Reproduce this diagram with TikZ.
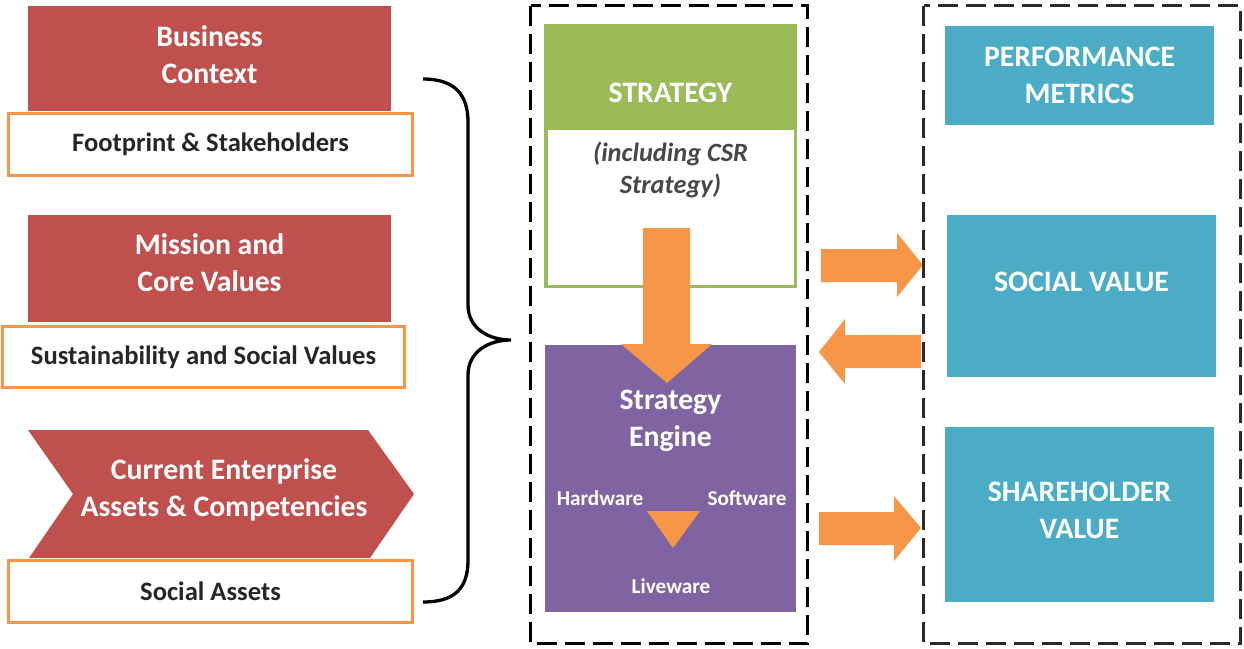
\documentclass[tikz,border=0pt]{standalone}
\usepackage{fontspec}
\setmainfont{Carlito}
\usetikzlibrary{positioning}
\definecolor{bizred}{HTML}{C0504D}
\definecolor{tagorange}{HTML}{F79646}
\definecolor{stratgreen}{HTML}{9BBB59}
\definecolor{engpurple}{HTML}{8064A2}
\definecolor{valblue}{HTML}{4BACC6}
\definecolor{dashgray}{HTML}{2B2B2B}
\definecolor{txtdark}{HTML}{262626}
\newcommand{\fontBig}{\bfseries\fontsize{29.7}{37}\selectfont}
\newcommand{\fontLab}{\bfseries\fontsize{26.6}{30}\selectfont}
\newcommand{\fontSml}{\bfseries\fontsize{21.2}{24}\selectfont}
\newcommand{\fontCsr}{\bfseries\itshape\fontsize{26.4}{32}\selectfont}

\tikzset{
  redbox/.style={fill=bizred, inner sep=0pt, text=white, font=\fontBig, align=center},
  tagbox/.style={draw=tagorange, line width=3pt, fill=white, inner sep=0pt, text=txtdark, font=\fontLab},
  valbox/.style={fill=valblue, inner sep=0pt, text=white, font=\fontBig, align=center},
  dashbox/.style={line width=3.3pt, dash pattern=on 20pt off 8pt},
  blockarrow/.style={fill=tagorange},
  whitetxt/.style={text=white, inner sep=0pt, align=center}
}

\begin{document}
\begin{tikzpicture}[x=1pt, y=-1pt]
\useasboundingbox (0,0) rectangle (1244,648);

% left column
\node[redbox, minimum width=363pt, minimum height=105pt] (bizctx) at (209.5,58.5) {};
\node[whitetxt, font=\fontBig] (bizctxtxt) at (209.5,54.5) {Business\\Context};
\node[tagbox, minimum width=404pt, minimum height=62pt] (fprint) at (210.5,144.5) {Footprint \& Stakeholders};

\node[redbox, minimum width=363pt, minimum height=107pt] (mission) at (209.5,268.5) {};
\node[whitetxt, font=\fontBig] (missiontxt) at (209.5,263) {Mission and\\Core Values};
\node[tagbox, minimum width=402pt, minimum height=61pt] (sustain) at (203.5,357) {Sustainability and Social Values};

\fill[bizred] (28,430) -- (368,430) -- (414,494) -- (370,558) -- (29,558) -- (73,494) -- cycle;
\node[whitetxt, font=\fontBig] (assets) at (224,490) {Current Enterprise\\Assets \& Competencies};
\node[tagbox, minimum width=404pt, minimum height=62pt] (socast) at (210.5,591.5) {Social Assets};

% brace
\draw[line width=3.3pt] (423,79) .. controls (455,79) and (468,95) .. (468,122)
  -- (468,305) .. controls (468,328) and (488,340) .. (511,340)
  .. controls (488,340) and (468,352) .. (468,375)
  -- (468,560) .. controls (468,588) and (455,602) .. (423,602);

% middle column
\node[fill=stratgreen, inner sep=0pt, minimum width=253pt, minimum height=103pt] (strat) at (670.5,75.5) {};
\node[draw=stratgreen, line width=3.5pt, fill=white, inner sep=0pt, minimum width=249.5pt, minimum height=158pt] (csr) at (670.5,207.5) {};
\node[whitetxt, font=\fontBig] (strattxt) at (670.5,92.5) {STRATEGY};
\node[inner sep=0pt, align=center, text=txtdark!85, font=\fontCsr] (csrtxt) at (670.5,169.5) {(including CSR\\Strategy)};

\node[fill=engpurple, inner sep=0pt, minimum width=251pt, minimum height=267pt] (engine) at (670.5,478.5) {};
\node[whitetxt, font=\fontBig] (enginetxt) at (670.5,421) {Strategy\\Engine};
\node[whitetxt, font=\fontSml] (hw) at (600,498) {Hardware};
\node[whitetxt, font=\fontSml] (sw) at (747,498) {Software};
\node[whitetxt, font=\fontSml] (lw) at (671,586) {Liveware};
\fill[tagorange] (647,511) -- (700,511) -- (673,548) -- cycle;

% block arrows
\fill[blockarrow] (643,228) -- (690,228) -- (690,344) -- (712,344) -- (667,383) -- (621,344) -- (643,344) -- cycle;
\fill[blockarrow] (821,249) -- (897,249) -- (897,233) -- (923,265) -- (897,297) -- (897,282) -- (821,282) -- cycle;
\fill[blockarrow] (921,335) -- (845,335) -- (845,319) -- (819,352) -- (845,384) -- (845,368) -- (921,368) -- cycle;
\fill[blockarrow] (819,512) -- (894,512) -- (894,496) -- (921,528) -- (894,561) -- (894,545) -- (819,545) -- cycle;

% right column
\node[valbox, minimum width=269pt, minimum height=99pt] (perf) at (1079.5,75.5) {PERFORMANCE\\METRICS};
\node[valbox, minimum width=269pt, minimum height=162pt] (socval) at (1081.5,296) {};
\node[whitetxt, font=\fontBig] (socvaltxt) at (1081.5,282) {SOCIAL VALUE};
\node[valbox, minimum width=269pt, minimum height=175pt] (shval) at (1079.5,514.5) {};
\node[whitetxt, font=\fontBig] (shvaltxt) at (1079.5,510) {SHAREHOLDER\\VALUE};

% dashed frames
\draw[dashbox] (530.5,5.5) rectangle (807.5,643.5);
\draw[dashbox, draw=dashgray] (923.5,5.5) rectangle (1240.5,643.5);
\end{tikzpicture}
\end{document}
